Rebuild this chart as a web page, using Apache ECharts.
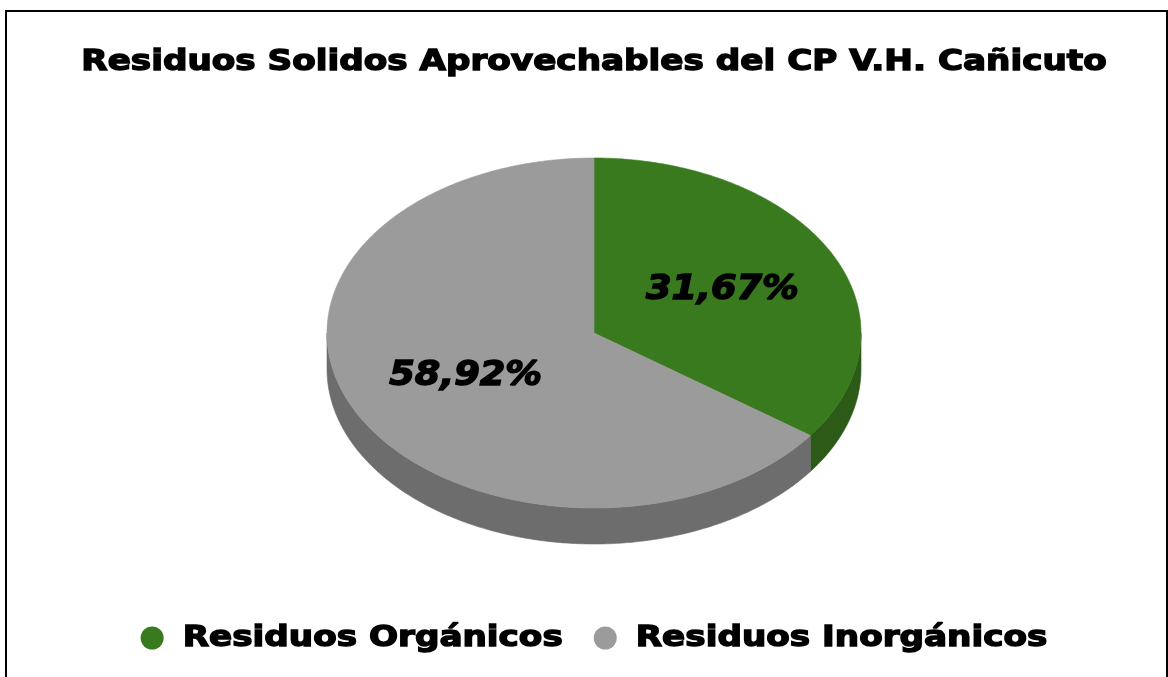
<!DOCTYPE html>
<html>
<head>
<meta charset="utf-8">
<script src="https://cdn.jsdelivr.net/npm/echarts@6/dist/echarts.min.js"></script>
<style>
html,body{margin:0;padding:0;background:#fff;}
#chart{width:1168px;height:677px;}
</style>
</head>
<body>
<div id="chart"></div>
<script>
// ---- data ----
const titleText = 'Residuos Solidos Aprovechables del CP V.H. Cañicuto';
const categories = ['Residuos Orgánicos', 'Residuos Inorgánicos'];
const values = [31.67, 58.92];

// ---- styles / layout ----
const topColors = ['#3a7a1f', '#9b9b9b'];
const sideColors = ['#2b5b17', '#6d6d6d'];
const FONT = 'DejaVu Sans';
const CX = 594, CY = 333, RX = 267, RY = 175, DEPTH = 36, LABEL_R = 0.54;
const TXT_SIZE = 29, TXT_SCALE = 1.18;

const total = values.reduce((a, b) => a + b, 0);
const angles = [];
(function () {
  let cum = 0;
  values.forEach(v => {
    const a0 = -Math.PI / 2 + 2 * Math.PI * cum / total;
    cum += v;
    const a1 = -Math.PI / 2 + 2 * Math.PI * cum / total;
    angles.push([a0, a1]);
  });
})();
function pt(a, dy) {
  return [CX + RX * Math.cos(a), CY + (dy || 0) + RY * Math.sin(a)];
}
function arc(a0, a1, dy) {
  const n = Math.max(2, Math.ceil(Math.abs(a1 - a0) / 0.01));
  const out = [];
  for (let k = 0; k <= n; k++) out.push(pt(a0 + (a1 - a0) * k / n, dy));
  return out;
}
function fmt(v) { return v.toFixed(2).replace('.', ',') + '%'; }

const mctx = document.createElement('canvas').getContext('2d');
function textW(t, size) {
  mctx.font = 'bold ' + size + 'px "' + FONT + '"';
  return mctx.measureText(t).width;
}

const wallSeries = {
  type: 'custom',
  name: '_walls',
  coordinateSystem: 'none',
  silent: true,
  z: 1,
  data: values.map((v, i) => [i]),
  renderItem: function (params, api) {
    const i = api.value(0);
    const [a0, a1] = angles[i];
    const lo = Math.max(a0, 0), hi = Math.min(a1, Math.PI);
    if (hi <= lo) return { type: 'group', children: [] };
    const topArc = arc(lo, hi, 0);
    const botArc = arc(hi, lo, DEPTH);
    return {
      type: 'polygon',
      shape: { points: topArc.concat(botArc) },
      style: { fill: sideColors[i], stroke: sideColors[i], lineWidth: 0.6 }
    };
  }
};

const topSeries = categories.map((name, idx) => ({
  type: 'custom',
  name: name,
  coordinateSystem: 'none',
  z: 2,
  itemStyle: { color: topColors[idx] },
  data: [[idx]],
  renderItem: function (params, api) {
    const i = api.value(0);
    const [a0, a1] = angles[i];
    const pts = [[CX, CY]].concat(arc(a0, a1, 0));
    const am = (a0 + a1) / 2;
    const lx = CX + RX * LABEL_R * Math.cos(am);
    const ly = CY + RY * LABEL_R * Math.sin(am);
    return {
      type: 'group',
      children: [
        {
          type: 'polygon',
          shape: { points: pts },
          style: { fill: topColors[i], stroke: topColors[i], lineWidth: 0.6 }
        },
        {
          type: 'text',
          z2: 50,
          x: lx, y: ly,
          scaleX: 1.08,
          style: {
            text: fmt(values[i]),
            fill: '#000',
            stroke: '#000',
            lineWidth: 1.5,
            fontSize: 34,
            fontWeight: 'bold',
            fontStyle: 'italic',
            fontFamily: FONT,
            align: 'center',
            verticalAlign: 'middle'
          }
        }
      ]
    };
  }
}));

// legend built as graphic (stretched heavy text)
const ICON_D = 23, ICON_GAP = 19, ITEM_GAP = 31, LEG_Y = 638;
const legW = categories.map(c => textW(c, TXT_SIZE) * TXT_SCALE);
const legTotal = categories.length * (ICON_D + ICON_GAP) + legW.reduce((a, b) => a + b, 0) + ITEM_GAP * (categories.length - 1);
const legendEls = [];
(function () {
  let x = CX - legTotal / 2;
  categories.forEach((c, i) => {
    legendEls.push({
      type: 'circle', silent: true,
      shape: { cx: x + ICON_D / 2, cy: LEG_Y, r: ICON_D / 2 },
      style: { fill: topColors[i] }
    });
    x += ICON_D + ICON_GAP;
    legendEls.push({
      type: 'text', silent: true,
      x: x, y: LEG_Y, scaleX: TXT_SCALE,
      style: {
        text: c, fill: '#000', stroke: '#000', lineWidth: 1.4,
        fontSize: TXT_SIZE, fontWeight: 'bold', fontFamily: FONT,
        align: 'left', verticalAlign: 'middle'
      }
    });
    x += legW[i] + ITEM_GAP;
  });
})();

const chart = echarts.init(document.getElementById('chart'), null, { renderer: 'canvas' });
chart.setOption({
  backgroundColor: '#fff',
  animation: false,
  graphic: [{
    type: 'rect',
    silent: true,
    shape: { x: 6, y: 11, width: 1161, height: 700 },
    style: { fill: 'none', stroke: '#000', lineWidth: 2 }
  }, {
    type: 'text',
    silent: true,
    x: CX, y: 62, scaleX: TXT_SCALE,
    style: {
      text: titleText, fill: '#000', stroke: '#000', lineWidth: 1.4,
      fontSize: TXT_SIZE, fontWeight: 'bold', fontFamily: FONT,
      align: 'center', verticalAlign: 'middle'
    }
  }].concat(legendEls),
  series: [wallSeries].concat(topSeries)
});
</script>
</body>
</html>
